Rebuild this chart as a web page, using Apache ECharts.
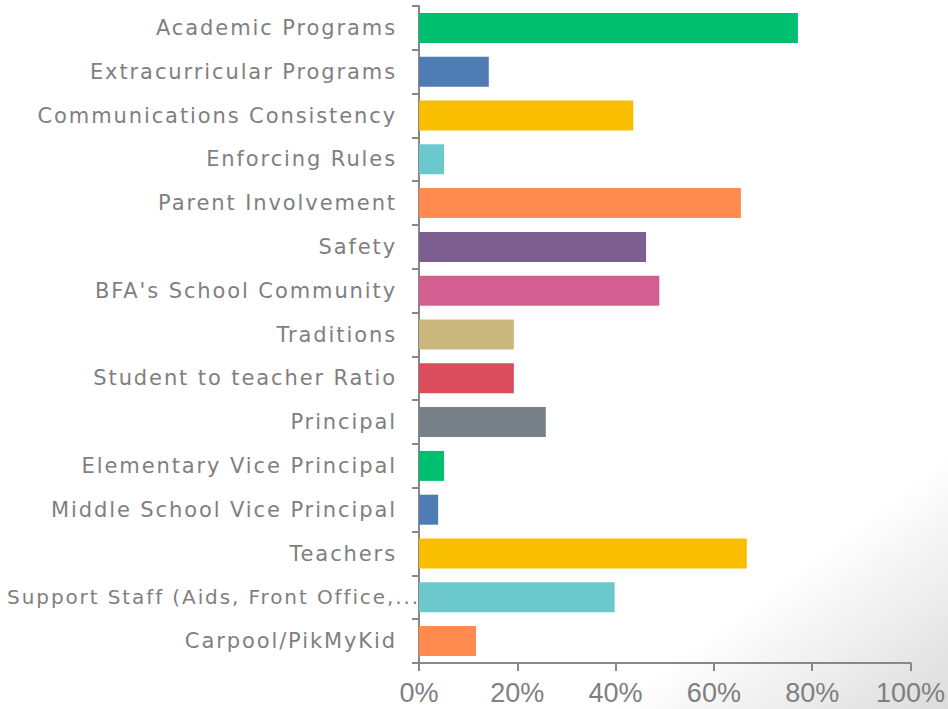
<!DOCTYPE html>
<html>
<head>
<meta charset="utf-8">
<script src="https://cdn.jsdelivr.net/npm/echarts@6/dist/echarts.min.js"></script>
<style>
  html, body { margin: 0; padding: 0; }
  #chart { width: 948px; height: 709px; }
  /* the category labels in the original are drawn wide */
  #chart svg text[text-anchor="end"] { letter-spacing: 1.9px; }
</style>
</head>
<body>
<!-- chart container -->
<div id="chart"></div>
<script>
const categories = [
  "Academic Programs",
  "Extracurricular Programs",
  "Communications Consistency",
  "Enforcing Rules",
  "Parent Involvement",
  "Safety",
  "BFA's School Community",
  "Traditions",
  "Student to teacher Ratio",
  "Principal",
  "Elementary Vice Principal",
  "Middle School Vice Principal",
  "Teachers",
  "Support Staff (Aids, Front Office,...",
  "Carpool/PikMyKid"
];
const values = [77.1, 14.2, 43.6, 5.1, 65.5, 46.2, 48.9, 19.3, 19.3, 25.8, 5.1, 3.9, 66.7, 39.8, 11.6];
const barColors = [
  "#00bf6f", "#507cb6", "#f9be00", "#6bc8cd", "#ff8b4f",
  "#7d5e90", "#d25f90", "#c9b77d", "#db4d5c", "#768086",
  "#00bf6f", "#507cb6", "#f9be00", "#6bc8cd", "#ff8b4f"
];
const xTicks = [0, 20, 40, 60, 80, 100];

// the long truncated label runs up to the axis line
const yData = categories.map(c =>
  c.indexOf("Support Staff") === 0
    ? { value: c, textStyle: { fontSize: 20, padding: [0, -23, 0, 0] } }
    : c
);

const chart = echarts.init(document.getElementById("chart"), null, { renderer: "svg" });
chart.setOption({
  backgroundColor: {
    type: "linear", x: 0, y: 0, x2: 1, y2: 1,
    colorStops: [
      { offset: 0, color: "#ffffff" },
      { offset: 0.82, color: "#ffffff" },
      { offset: 1, color: "#dcdcdc" }
    ]
  },
  animation: false,
  grid: { left: 419, right: 36, top: 6, bottom: 46 },
  xAxis: {
    type: "value",
    min: xTicks[0],
    max: xTicks[xTicks.length - 1],
    interval: 20,
    splitLine: { show: false },
    axisLine: { show: true, lineStyle: { color: "#888888", width: 2 } },
    axisTick: { show: true, length: 8, lineStyle: { color: "#888888", width: 2 } },
    axisLabel: {
      color: "#7f7f7f",
      fontFamily: "Liberation Sans",
      fontSize: 27,
      margin: 16,
      formatter: "{value}%"
    }
  },
  yAxis: {
    type: "category",
    inverse: true,
    data: yData,
    axisLine: { show: true, lineStyle: { color: "#888888", width: 2 } },
    axisTick: { show: true, length: 7, lineStyle: { color: "#888888", width: 2 } },
    axisLabel: {
      color: "#7f7f7f",
      fontFamily: "DejaVu Sans",
      fontSize: 21,
      margin: 22
    }
  },
  series: [
    {
      type: "bar",
      data: values.map((v, i) => ({ value: v, itemStyle: { color: barColors[i] } })),
      barWidth: 30
    }
  ]
});
</script>
</body>
</html>
